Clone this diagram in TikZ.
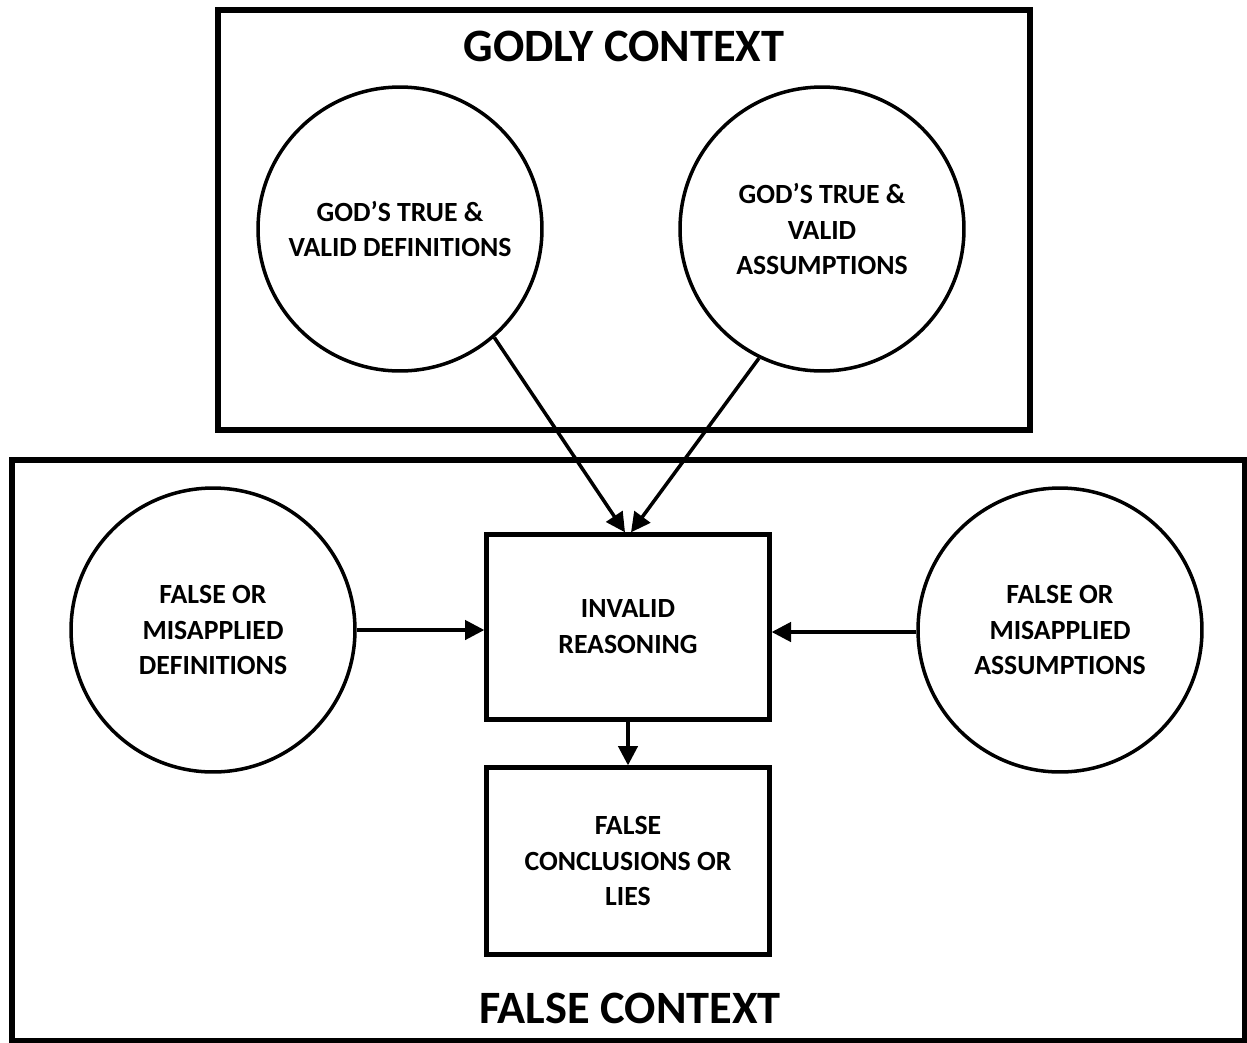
\documentclass[tikz,border=0pt]{standalone}
\usepackage{fontspec}
\setmainfont{Carlito}
\usepackage{tikz}
\usetikzlibrary{
  arrows.meta,positioning,calc
}

\begin{document}
\begin{tikzpicture}[x=0.02cm,y=-0.02cm,
    txt/.style={font=\fontsize{15.8}{20.4}\selectfont\bfseries,align=center},
    ctxbox/.style={draw,line width=3.2pt},
    ttl/.style={font=\fontsize{26.4}{30}\selectfont\bfseries},
    bubble/.style={txt,draw,circle,line width=2pt,minimum size=5.68cm,inner sep=0pt},
    stepbox/.style={txt,draw,rectangle,line width=2.5pt,minimum width=5.66cm,inner sep=0pt},
    flow/.style={line width=2pt,-{Triangle[length=11pt,width=11pt]}}]
    \useasboundingbox (0,0) rectangle (1247,1042);

    % the two contexts
    \draw[ctxbox] (218,10) rectangle (1030,430);
    \node[ttl] (godly) at (624,46) {GODLY CONTEXT};
    \draw[ctxbox] (12,460) rectangle (1245,1041);
    \node[ttl] (false) at (630,1008) {FALSE CONTEXT};

    \node[bubble] (gdef) at (400,229) {GOD’S TRUE \&\\VALID DEFINITIONS};
    \node[bubble] (gasm) at (822,229) {GOD’S TRUE \&\\VALID\\ASSUMPTIONS};

    \node[bubble] (fdef) at (213,630) {FALSE OR\\MISAPPLIED\\DEFINITIONS};
    \node[bubble] (fasm) at (1060,630) {FALSE OR\\MISAPPLIED\\ASSUMPTIONS};

    \node[stepbox,minimum height=3.7cm] (reason) at (628,627) {INVALID\\REASONING};
    \node[stepbox,minimum height=3.74cm] (concl) at (628,861) {FALSE\\CONCLUSIONS OR\\LIES};

    \draw[flow] (gdef.-49) -- ([xshift=-0.06cm]reason.north);
    \draw[flow] (gasm.-116) -- ([xshift=0.06cm]reason.north);
    \draw[flow] (fdef.east) -- (fdef.east -| reason.west);
    \draw[flow] ([yshift=-0.04cm]fasm.west) -- ([yshift=-0.04cm]fasm.west -| reason.east);
    \draw[flow] (reason.south) -- (concl.north);
  \end{tikzpicture}
\end{document}
